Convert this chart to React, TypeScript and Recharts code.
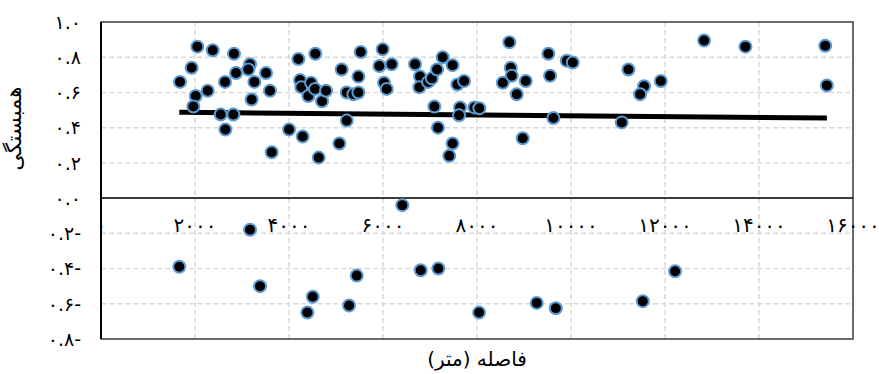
import { ScatterChart, Scatter, XAxis, YAxis, CartesianGrid, ReferenceLine, ReferenceArea } from 'recharts';

const distance = [
  1681, 1929, 2050, 2377, 2015, 1965, 2270, 2547, 2816, 2646, 2639, 2830, 2873, 3171, 3135, 3263, 3206, 3511, 3596, 3632,
  4001, 4199, 4561, 4235, 4263, 4469, 4412, 4554, 4703, 4788, 4291, 4632, 5072, 5228, 5121, 5228, 5370, 5477, 5477, 5526,
  5994, 5923, 6186, 6022, 6079, 6411, 6682, 6788, 6774, 6960, 7040, 7150, 7270, 7480, 7093, 7170, 7410, 7480, 7583, 7725,
  7640, 7618, 7944, 8050, 8689, 8718, 8739, 8548, 9037, 8846, 9626, 8973, 9519, 9555, 9910, 10038, 11222, 11555, 11470, 11911,
  11080, 12832, 13711, 15409, 15444,
  3171, 1666, 3384, 4505, 4391, 5441, 5278, 6803, 7178, 8044, 9271, 9676, 12215, 11527,
];
const correlation = [
  0.66, 0.74, 0.86, 0.84, 0.58, 0.52, 0.61, 0.475, 0.475, 0.39, 0.66, 0.82, 0.71, 0.76, 0.73, 0.66, 0.56, 0.71, 0.61, 0.26,
  0.39, 0.79, 0.82, 0.67, 0.63, 0.655, 0.58, 0.62, 0.55, 0.61, 0.35, 0.23, 0.31, 0.44, 0.73, 0.6, 0.59, 0.6, 0.69, 0.83,
  0.845, 0.75, 0.76, 0.655, 0.62, -0.04, 0.76, 0.69, 0.63, 0.66, 0.68, 0.73, 0.8, 0.755, 0.52, 0.4, 0.24, 0.31, 0.645, 0.665,
  0.515, 0.47, 0.515, 0.51, 0.885, 0.74, 0.695, 0.655, 0.665, 0.59, 0.455, 0.34, 0.82, 0.695, 0.78, 0.77, 0.73, 0.635, 0.59, 0.665,
  0.43, 0.895, 0.86, 0.865, 0.64,
  -0.18, -0.39, -0.5, -0.56, -0.65, -0.44, -0.61, -0.41, -0.4, -0.65, -0.595, -0.625, -0.415, -0.585,
];
const trendX = [1666, 15444];
const trendY = [0.487, 0.455];
const xTicks = [0, 2000, 4000, 6000, 8000, 10000, 12000, 14000, 16000];
const yTicks = [-0.8, -0.6, -0.4, -0.2, 0, 0.2, 0.4, 0.6, 0.8, 1.0];

const points = distance.map((x, i) => ({ x, y: correlation[i] }));
const trend = trendX.map((x, i) => ({ x, y: trendY[i] }));

const fa = (s: string) => s.replace(/[0-9]/g, (d) => '۰۱۲۳۴۵۶۷۸۹'[Number(d)]);
const fmtY = (v: number) => fa(Math.abs(v).toFixed(1)) + (v < 0 ? '-' : '');

const FONT = '"DejaVu Sans", sans-serif';

function XTick({ x, y, payload }: any) {
  return (
    <text x={x} y={y - 115} textAnchor="middle" fontFamily={FONT} fontSize={20} letterSpacing={4} fill="#000">
      {fa(String(payload.value))}
    </text>
  );
}

const Dot = ({ cx, cy }: any) => <circle cx={cx} cy={cy} r={6} fill="#000" stroke="#5b9bd5" strokeWidth={2} />;

export default function App() {
  return (
    <div style={{ position: 'absolute', left: 0, top: 0, background: '#fff' }}>
      <ScatterChart width={879} height={374} margin={{ top: 22, right: 26, bottom: 0, left: 0 }}>
        <CartesianGrid stroke="#d9d9d9" strokeDasharray="5 3" strokeWidth={1.5} />
        <XAxis type="number" dataKey="x" domain={[0, 16000]} ticks={xTicks} height={35}
          axisLine={false} tickLine={false} tick={<XTick />} interval={0} />
        <YAxis type="number" dataKey="y" domain={[-0.8, 1]} ticks={yTicks} width={101} interval={0}
          axisLine={{ stroke: '#000', strokeWidth: 2 }} tickLine={false} tickSize={0} tickMargin={20}
          tickFormatter={fmtY} tick={{ fill: '#000', fontSize: 19, fontFamily: FONT }}
          label={{ value: 'همبستگی', angle: -90, position: 'insideLeft', offset: 14, dy: -10, fontSize: 21, fontFamily: FONT, fill: '#000' }} />
        <ReferenceArea x1={0} x2={16000} y1={-0.8} y2={1} fill="none" stroke="#404040" strokeWidth={1.5} ifOverflow="extendDomain" />
        <ReferenceLine y={0} stroke="#000" strokeWidth={1.5} />
        <Scatter data={trend} line={{ stroke: '#000', strokeWidth: 5 }} shape={() => null} isAnimationActive={false} />
        <Scatter data={points} shape={<Dot />} isAnimationActive={false} />
        <text x={477} y={366} textAnchor="middle" fontFamily={FONT} fontSize={20} fill="#000">فاصله (متر)</text>
      </ScatterChart>
    </div>
  );
}
